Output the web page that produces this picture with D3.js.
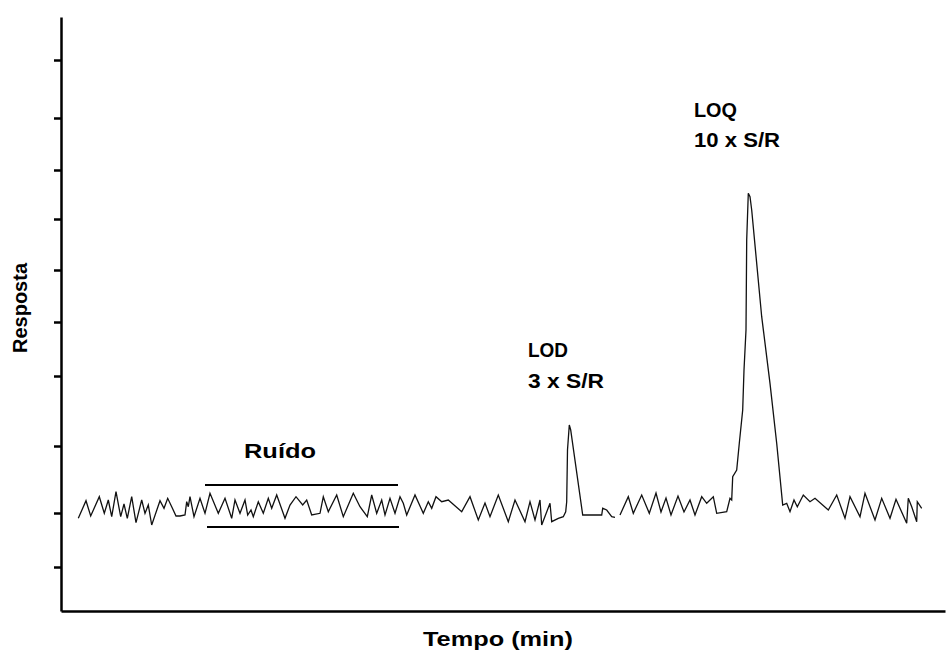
<!DOCTYPE html>
<meta charset="utf-8">
<style>
body { margin: 0; background: #fff; }
text { font-family: "Liberation Sans", Arial, sans-serif; font-weight: bold; fill: #000; }
</style>
<body>
<div id="chart"></div>
<script src="https://cdn.jsdelivr.net/npm/d3@7"></script>
<script>

// chromatogram trace: time (arbitrary units) and response
var tempo = [1.73, 2.50, 2.97, 3.83, 4.33, 4.73, 5.07, 5.50, 5.97, 6.30, 6.63, 7.07, 7.50, 8.07, 8.40, 8.73, 9.07, 9.90, 10.30, 10.67,
  11.07, 11.50, 11.90, 12.40, 12.57, 12.73, 12.90, 13.30, 13.90, 14.40, 14.90, 15.73, 16.40, 17.07, 17.40, 17.90, 18.40, 18.67, 19.00, 19.23,
  19.73, 20.23, 20.73, 21.07, 21.57, 22.40, 22.90, 23.50, 24.17, 24.57, 25.07, 25.90, 26.23, 26.73, 27.57, 28.23, 29.23, 29.90, 30.63, 31.07,
  31.57, 32.07, 32.40, 32.90, 33.40, 33.90, 34.23, 34.57, 35.40, 36.23, 36.73, 37.07, 37.50, 38.07, 38.73, 40.07, 40.90, 41.73, 42.40, 42.90,
  43.73, 44.73, 45.40, 46.40, 46.90, 47.40, 47.90, 48.07, 48.90, 49.07, 49.73, 50.23, 50.47, 50.57, 50.65, 50.83, 50.97, 52.17, 54.07, 54.17,
  54.57, 55.07, 55.40, 55.65, 55.90, 56.73, 57.23, 58.07, 58.83, 59.5, 60.0, 60.5, 61.0, 61.7, 62.3, 62.9, 63.4, 64.07, 64.57, 65.23,
  65.57, 66.57, 66.90, 67.07, 67.17, 67.57, 67.83, 68.17, 68.30, 68.50, 68.57, 68.73, 68.90, 69.07, 70.07, 70.90, 71.57, 72.17, 72.57, 72.90,
  73.30, 73.63, 74.23, 74.90, 75.40, 76.73, 77.57, 78.40, 78.90, 79.90, 80.40, 81.40, 82.07, 82.90, 83.50, 84.57, 84.73, 85.07, 85.57, 85.63,
  86.07];
var resposta = [9.27, 11.03, 9.50, 11.43, 9.77, 11.10, 9.43, 11.93, 9.43, 10.70, 9.27, 11.43, 8.83, 11.10, 9.77, 10.60, 8.60, 11.03, 10.27, 11.27,
  10.43, 9.50, 9.50, 9.60, 10.93, 10.43, 11.43, 9.43, 11.27, 9.77, 11.77, 9.77, 11.27, 9.27, 11.10, 9.77, 11.10, 9.60, 10.10, 9.43,
  10.93, 9.77, 11.27, 10.27, 11.60, 9.27, 10.60, 11.43, 10.60, 11.10, 9.60, 9.77, 11.43, 9.93, 11.60, 9.43, 11.77, 10.43, 9.43, 11.60,
  9.77, 11.10, 9.60, 11.27, 9.77, 11.43, 10.77, 9.60, 11.60, 9.77, 10.93, 10.27, 11.43, 10.93, 11.10, 9.93, 11.43, 9.10, 10.80, 9.43,
  11.60, 8.93, 11.10, 8.93, 10.93, 9.10, 11.10, 8.60, 10.77, 8.93, 9.27, 9.43, 9.93, 10.93, 16.1, 18.6, 18.1, 9.60, 9.60, 10.27,
  10.10, 9.43, 9.37, null, 9.60, 11.43, 9.77, 11.60, 9.77, 11.8, 9.9, 11.3, 9.6, 11.5, 9.9, 11.1, 9.6, 11.43, 10.77, 11.43,
  9.77, 9.93, 11.27, 11.10, 13.43, 14.10, 16.77, 20.10, 24.10, 28.10, 37.10, 41.77, 41.43, 40.10, 29.43, 22.77, 16.77, 10.60, 10.77, 9.93,
  11.10, 10.43, 11.60, 10.93, 11.27, 10.10, 11.60, 9.27, 11.43, 9.43, 11.77, 9.10, 11.27, 9.27, 11.17, 8.77, 11.27, 10.43, 8.93, 10.93,
  10.27];

// y axis tick marks (unlabelled)
var yTicks = [4.4, 9.8, 16.5, 23.5, 28.9, 34.1, 39.2, 44.1, 49.3, 55.1];

// noise band limits
var ruidoInicio = [14.4, 14.6];
var ruidoFim = [33.7, 33.8];
var ruidoNivel = [12.6, 8.4];

var width = 947, height = 652;

var x = d3.scaleLinear().domain([0, 88.4]).range([61, 945]);
var y = d3.scaleLinear().domain([0, 59.4]).range([611, 17]);

var svg = d3.select("#chart").append("svg")
    .attr("width", width)
    .attr("height", height);

var data = tempo.map(function(t, i) { return { t: t, r: resposta[i] }; });

// axes
svg.append("g")
    .attr("transform", "translate(0," + y(0) + ")")
    .call(d3.axisBottom(x).tickValues([]).tickSizeOuter(0))
    .call(function(g) { g.select(".domain").attr("stroke", "#000").attr("stroke-width", 2.5); });

svg.append("g")
    .attr("transform", "translate(" + x(0) + ",0)")
    .call(d3.axisLeft(y).tickValues(yTicks).tickSize(7).tickSizeOuter(0).tickFormat(""))
    .call(function(g) {
      g.select(".domain").attr("stroke", "#000").attr("stroke-width", 2.5);
      g.selectAll(".tick line").attr("stroke", "#000").attr("stroke-width", 2.5);
    });

// trace
var line = d3.line()
    .defined(function(d) { return d.r !== null; })
    .x(function(d) { return x(d.t); })
    .y(function(d) { return y(d.r); });

svg.append("path")
    .datum(data)
    .attr("fill", "none")
    .attr("stroke", "#111")
    .attr("stroke-width", 1.3)
    .attr("stroke-linejoin", "miter")
    .attr("d", line);

// noise band lines
svg.selectAll(".banda")
    .data(ruidoNivel)
    .enter().append("line")
    .attr("class", "banda")
    .attr("x1", function(d, i) { return x(ruidoInicio[i]); })
    .attr("x2", function(d, i) { return x(ruidoFim[i]); })
    .attr("y1", function(d) { return y(d); })
    .attr("y2", function(d) { return y(d); })
    .attr("stroke", "#000")
    .attr("stroke-width", 2);

// labels
function label(txt, px, py, w) {
  svg.append("text")
      .attr("x", px)
      .attr("y", py)
      .attr("font-size", 21)
      .attr("textLength", w)
      .attr("lengthAdjust", "spacingAndGlyphs")
      .text(txt);
}
label("Ruído", 244, 458, 72);
label("LOD", 528, 357, 40);
label("3 x S/R", 528, 388, 76);
label("LOQ", 694, 117, 43);
label("10 x S/R", 694, 147, 86);
label("Tempo (min)", 423, 646, 150);

svg.append("text")
    .attr("transform", "translate(27,308) rotate(-90)")
    .attr("text-anchor", "middle")
    .attr("font-size", 20)
    .text("Resposta");

</script>
</body>
